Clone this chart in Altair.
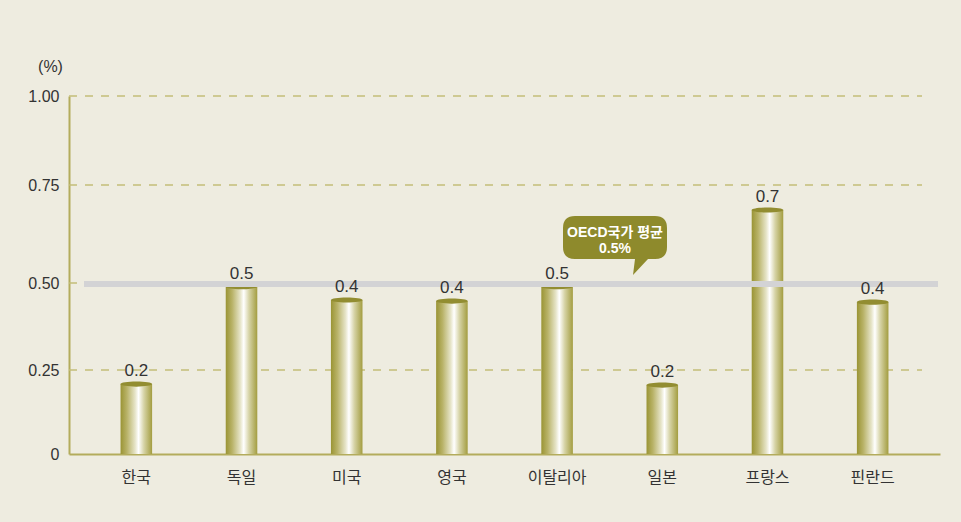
import altair as alt
import pandas as pd

countries = ["한국", "독일", "미국", "영국", "이탈리아", "일본", "프랑스", "핀란드"]
values = [0.208, 0.489, 0.451, 0.448, 0.489, 0.205, 0.686, 0.445]
value_labels = ["0.2", "0.5", "0.4", "0.4", "0.5", "0.2", "0.7", "0.4"]
oecd_avg = 0.497
oecd_text = ["OECD국가 평균", "0.5%"]
grid_values = [0.25, 0.5, 0.75, 1.0]
y_ticks = [0, 0.25, 0.5, 0.75, 1.0]

df = pd.DataFrame({"country": countries, "value": values, "label": value_labels})
grid_df = pd.DataFrame({"v": grid_values})
avg_df = pd.DataFrame({"v": [oecd_avg], "t1": [oecd_text[0]], "t2": [oecd_text[1]]})

BG = "#eeece0"
OLIVE = "#b3ac5c"
TXT = "#333333"
NUMFONT = "Liberation Sans"
KFONT = "Noto Sans CJK KR"

xscale = alt.Scale(domain=countries, paddingInner=0.7, paddingOuter=0.49)
# the original axis is drawn slightly unevenly: piecewise linear mapping
yscale = alt.Scale(domain=y_ticks, range=[358, 274, 187, 89, 0])

base = alt.Chart(df)

x_enc = alt.X("country:N", sort=countries, scale=xscale,
              axis=alt.Axis(title=None, labelAngle=0, ticks=False, grid=False,
                            domainColor=OLIVE, domainWidth=2, labelFont=KFONT,
                            labelFontSize=16, labelColor=TXT, labelPadding=15))

grid = alt.Chart(grid_df).mark_rule(color="#c4bd78", strokeWidth=1.5, strokeDash=[8, 8]).encode(
    y=alt.Y("v:Q", scale=yscale),
    x=alt.value(0), x2=alt.value(853))

avg_line = alt.Chart(avg_df).mark_rule(color="#d3d3d5", strokeWidth=6).encode(
    y=alt.Y("v:Q", scale=yscale), x=alt.value(15), x2=alt.value(869))

grad = alt.Gradient(
    gradient="linear", x1=0, x2=1, y1=0, y2=0,
    stops=[
        alt.GradientStop(color="#9a9434", offset=0),
        alt.GradientStop(color="#b8b267", offset=0.2),
        alt.GradientStop(color="#e6e4c8", offset=0.46),
        alt.GradientStop(color="#ffffff", offset=0.57),
        alt.GradientStop(color="#d6d3a6", offset=0.74),
        alt.GradientStop(color="#a39d40", offset=1),
    ])

bars = base.mark_bar(color=grad).encode(
    x=x_enc,
    y=alt.Y("value:Q", scale=yscale,
            axis=alt.Axis(values=y_ticks, grid=False, ticks=False, domainColor=OLIVE,
                          domainWidth=2, labelFont=NUMFONT, labelFontSize=16,
                          labelColor=TXT, labelPadding=10,
                          labelExpr="datum.value == 0 ? '0' : format(datum.value, '.2f')",
                          title="(%)", titleAngle=0, titleX=-19, titleY=-30,
                          titleAlign="center", titleBaseline="middle",
                          titleFont=NUMFONT, titleFontSize=16, titleFontWeight="normal",
                          titleColor=TXT)))

ellipse = "M -1 0 A 1 0.16 0 1 0 1 0 A 1 0.16 0 1 0 -1 0 Z"
caps = base.mark_point(shape=ellipse, filled=True, size=1000, color="#928d31",
                       opacity=1, strokeWidth=0).encode(
    x=alt.X("country:N", sort=countries, scale=xscale),
    y=alt.Y("value:Q", scale=yscale))

labels = base.mark_text(font=NUMFONT, fontSize=17, color=TXT, baseline="alphabetic",
                        dy=-8).encode(
    x=alt.X("country:N", sort=countries, scale=xscale),
    y=alt.Y("value:Q", scale=yscale),
    text="label:N")

bubble_path = ("M -58 -68 L 22 -68 Q 34 -68 34 -56 L 34 -37 Q 34 -25 22 -25 "
               "L 15 -25 L 0 -9 L 2 -25 L -58 -25 Q -70 -25 -70 -37 L -70 -56 "
               "Q -70 -68 -58 -68 Z")
bubble = alt.Chart(avg_df).mark_point(shape=bubble_path, filled=True, size=4,
                                      color="#8e8a2c", opacity=1, strokeWidth=0).encode(
    x=alt.value(564), y=alt.Y("v:Q", scale=yscale))

btxt1 = alt.Chart(avg_df).mark_text(font=NUMFONT + ", " + KFONT, fontSize=14,
                                    fontWeight="bold", color="white", dy=-51).encode(
    x=alt.value(546), y=alt.Y("v:Q", scale=yscale), text="t1:N")
btxt2 = alt.Chart(avg_df).mark_text(font=NUMFONT, fontSize=14, fontWeight="bold",
                                    color="white", dy=-35).encode(
    x=alt.value(546), y=alt.Y("v:Q", scale=yscale), text="t2:N")

chart = alt.layer(grid, bars, caps, avg_line, labels, bubble, btxt1, btxt2).properties(
    width=871, height=358,
    background=BG,
    autosize=alt.AutoSizeParams(type="none"),
    padding={"left": 69, "top": 96, "right": 21, "bottom": 68},
).configure_view(stroke=None)

chart.save("out.html", embed_options={"renderer": "svg", "actions": False})
